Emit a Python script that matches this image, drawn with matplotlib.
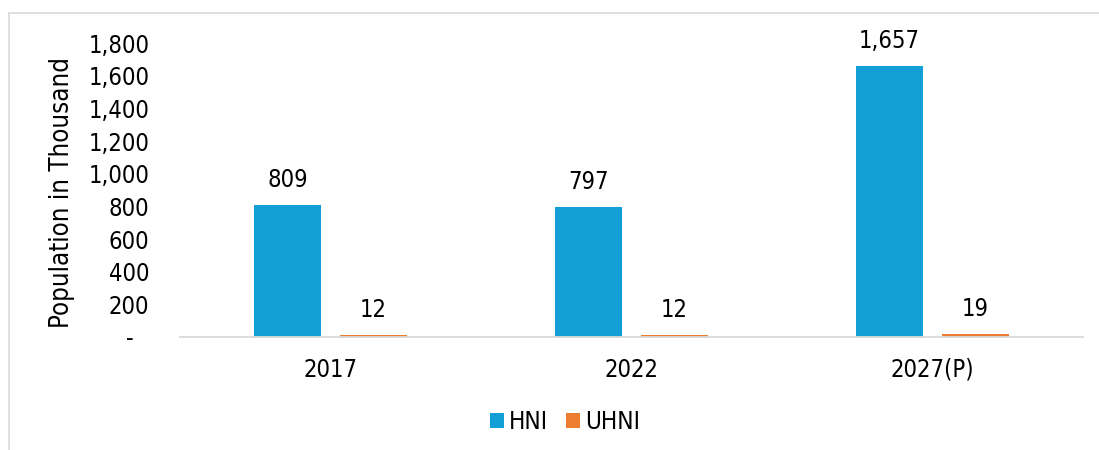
import numpy as np
import matplotlib
matplotlib.use('Agg')
import matplotlib.pyplot as plt
from matplotlib.patches import Rectangle
from matplotlib.transforms import ScaledTranslation, blended_transform_factory

plt.rcParams.update({
    'font.family': 'DejaVu Sans',
    'font.stretch': 'condensed',
    'font.size': 17,
})

years = ['2017', '2022', '2027(P)']
hni = [809, 797, 1657]
uhni = [12, 12, 19]
y_ticks = [0, 200, 400, 600, 800, 1000, 1200, 1400, 1600, 1800]

BLUE = '#139FD6'
ORANGE = '#ED7D31'
GRID = '#D9D9D9'

fig = plt.figure(figsize=(10.99, 4.5), dpi=100)
ax = fig.add_axes([180 / 1099, 1 - 337 / 450, 903 / 1099, 294 / 450])

# outer chart frame (only top/left visible in the original crop)
fig.patches.append(Rectangle((9 / 1099, -0.2), 2.0, (450 - 13) / 450 + 0.2,
                             transform=fig.transFigure, fill=False,
                             edgecolor=GRID, linewidth=1.2, zorder=0))

x = np.arange(len(years))
w = 67 / 301
off = (67 + 19) / 2 / 301
b1 = ax.bar(x - off, hni, w, color=BLUE, label='HNI')
b2 = ax.bar(x + off, uhni, w, color=ORANGE, label='UHNI')

for bars, vals in [(b1, hni), (b2, uhni)]:
    for r, v in zip(bars, vals):
        ax.annotate(f'{v:,}', (r.get_x() + r.get_width() / 2, r.get_height()),
                    xytext=(0, 9.5), textcoords='offset points',
                    ha='center', va='bottom', fontsize=17)

ax.set_xlim(-0.5, 2.5)
ax.set_ylim(0, 1800)
ax.set_xticks(x)
ax.set_xticklabels(years)
ax.set_yticks(y_ticks)
ax.set_yticklabels(['-' if t == 0 else f'{t:,}' for t in y_ticks])
ax.tick_params(axis='both', length=0, labelsize=17)
ax.tick_params(axis='x', pad=15)
ax.tick_params(axis='y', pad=22)

zero_lbl = ax.get_yticklabels()[0]
zero_lbl.set_transform(zero_lbl.get_transform() +
                       ScaledTranslation(-16 / 100, 0, fig.dpi_scale_trans))

for s in ['top', 'right', 'left']:
    ax.spines[s].set_visible(False)
ax.spines['bottom'].set_color(GRID)
ax.spines['bottom'].set_linewidth(1.3)

ax.set_ylabel('Population in Thousand', fontsize=18.5)
ax.yaxis.set_label_coords(75 / 1099, 0.49,
                          transform=blended_transform_factory(fig.transFigure, ax.transAxes))

fig.legend(loc='center', bbox_to_anchor=(565 / 1099, 1 - 422 / 450),
           ncol=2, frameon=False, fontsize=17.5, handlelength=0.58,
           handleheight=0.58, handletextpad=0.2, columnspacing=0.75)

fig.savefig('out.png', dpi=100)
